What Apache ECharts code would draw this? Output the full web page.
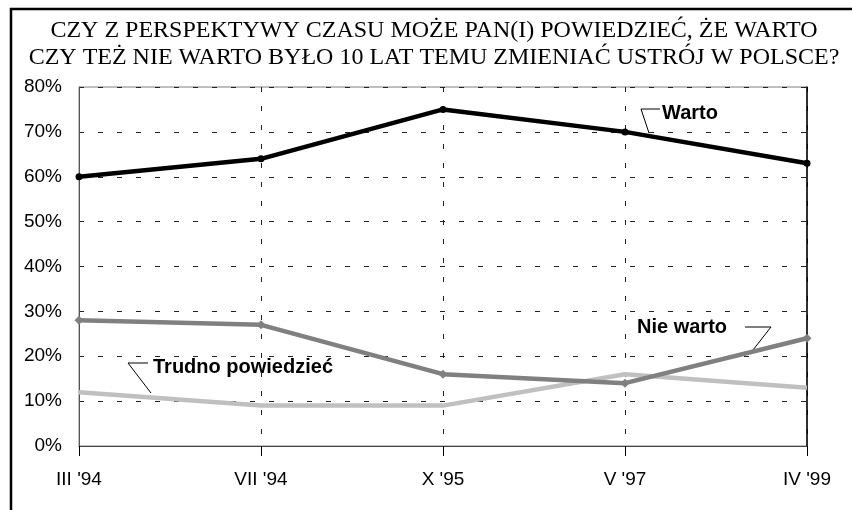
<!DOCTYPE html>
<html>
<head>
<meta charset="utf-8">
<script src="https://cdn.jsdelivr.net/npm/echarts@6/dist/echarts.min.js"></script>
<style>
  html, body { margin: 0; padding: 0; background: #fff; }
  #chart { width: 852px; height: 510px; }
</style>
</head>
<body>
<div id="chart"></div>
<script>
// dane z sondażu
const surveys = ["III '94", "VII '94", "X '95", "V '97", "IV '99"];
const warto = [60, 64, 75, 70, 63];
const nieWarto = [28, 27, 16, 14, 24];
const trudno = [12, 9, 9, 16, 13];
const yTicks = [0, 10, 20, 30, 40, 50, 60, 70, 80];

const chart = echarts.init(document.getElementById('chart'));

const sans = 'Liberation Sans';
const gridDash = { color: '#222', width: 1, type: [5, 14] };

const option = {
  animation: false,
  backgroundColor: '#fff',
  title: {
    text: 'CZY Z PERSPEKTYWY CZASU MOŻE PAN(I) POWIEDZIEĆ, ŻE WARTO\nCZY TEŻ NIE WARTO BYŁO 10 LAT TEMU ZMIENIAĆ USTRÓJ W POLSCE?',
    left: 434,
    top: 17,
    textAlign: 'center',
    padding: 0,
    textStyle: {
      fontFamily: 'Liberation Serif',
      fontWeight: 'normal',
      fontSize: 24,
      lineHeight: 27,
      color: '#000'
    }
  },
  grid: {
    left: 79, right: 45, top: 87, bottom: 64,
    show: true, borderColor: '#808080', borderWidth: 1
  },
  xAxis: {
    type: 'category',
    data: surveys,
    boundaryGap: false,
    axisLine: { lineStyle: { color: '#444', width: 1 } },
    axisTick: { show: true, length: 10, lineStyle: { color: '#000' } },
    axisLabel: { margin: 24, fontFamily: sans, fontSize: 19, color: '#000' },
    splitLine: { show: true, lineStyle: gridDash }
  },
  yAxis: [
    {
      type: 'value',
      min: yTicks[0],
      max: yTicks[yTicks.length - 1],
      interval: 10,
      axisLine: { show: true, lineStyle: { color: '#555' } },
      axisTick: { show: false },
      axisLabel: { margin: 17, fontFamily: sans, fontSize: 19, color: '#000', formatter: '{value}%' },
      splitLine: { show: true, lineStyle: gridDash }
    },
    {
      type: 'value',
      position: 'right',
      min: yTicks[0],
      max: yTicks[yTicks.length - 1],
      interval: 10,
      axisLine: { show: true, lineStyle: { color: '#000', width: 1.5 } },
      axisTick: { show: false },
      axisLabel: { show: false },
      splitLine: { show: false }
    }
  ],
  series: [
    {
      name: 'Trudno powiedzieć',
      type: 'line',
      data: trudno,
      symbol: 'none',
      lineStyle: { color: '#c0c0c0', width: 4.5 },
      itemStyle: { color: '#c0c0c0' }
    },
    {
      name: 'Nie warto',
      type: 'line',
      data: nieWarto,
      symbol: 'diamond',
      symbolSize: 9,
      lineStyle: { color: '#808080', width: 4.5 },
      itemStyle: { color: '#808080' }
    },
    {
      name: 'Warto',
      type: 'line',
      data: warto,
      symbol: 'circle',
      symbolSize: 7,
      lineStyle: { color: '#000', width: 4.5 },
      itemStyle: { color: '#000' }
    }
  ],
  graphic: [
    // ramka
    {
      type: 'rect', silent: true,
      shape: { x: 11, y: 9, width: 1200, height: 1200 },
      style: { fill: 'none', stroke: '#000', lineWidth: 2.5 }
    },
    // opisy serii
    {
      type: 'polyline', silent: true,
      shape: { points: [[660, 109], [641, 109], [649, 133]] },
      style: { fill: 'none', stroke: '#000', lineWidth: 1 }
    },
    {
      type: 'text', silent: true, x: 662, y: 113,
      style: { text: 'Warto', font: 'bold 20px "Liberation Sans"', fill: '#000', align: 'left', verticalAlign: 'middle' }
    },
    {
      type: 'polyline', silent: true,
      shape: { points: [[745, 327], [771, 327], [753, 350]] },
      style: { fill: 'none', stroke: '#000', lineWidth: 1 }
    },
    {
      type: 'text', silent: true, x: 637, y: 327,
      style: { text: 'Nie warto', font: 'bold 20px "Liberation Sans"', fill: '#000', align: 'left', verticalAlign: 'middle' }
    },
    {
      type: 'polyline', silent: true,
      shape: { points: [[148, 363], [128, 363], [151, 393]] },
      style: { fill: 'none', stroke: '#000', lineWidth: 1 }
    },
    {
      type: 'text', silent: true, x: 153, y: 367,
      style: { text: 'Trudno powiedzieć', font: 'bold 20px "Liberation Sans"', fill: '#000', align: 'left', verticalAlign: 'middle' }
    }
  ]
};

chart.setOption(option);
</script>
</body>
</html>
